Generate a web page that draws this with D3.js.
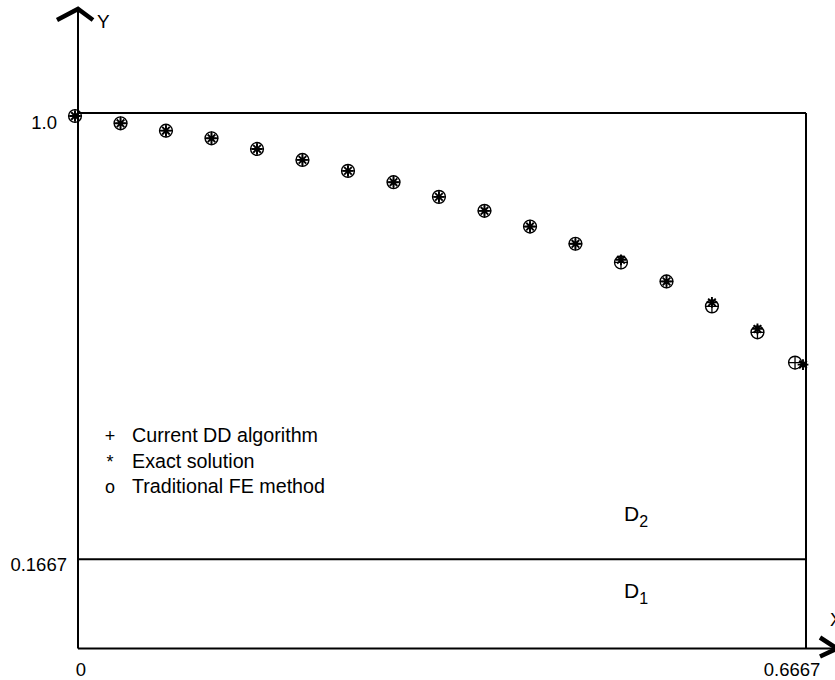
<!DOCTYPE html>
<meta charset="utf-8">

<!-- Load d3.js -->
<script src="https://d3js.org/d3.v7.min.js"></script>

<style>
  body { margin: 0; background: #fff; }
  text { font-family: "Liberation Sans", Arial, Helvetica, sans-serif; fill: #000; }
</style>

<!-- Create a div where the graph will take place -->
<div id="chart"></div>

<script>
  // values
  var xExact = [0, 0.0417, 0.0833, 0.125, 0.1667, 0.2083, 0.25, 0.2917, 0.3333,
    0.375, 0.4167, 0.4583, 0.5, 0.5417, 0.5833, 0.625, 0.6667];
  var xMethods = [0, 0.0417, 0.0833, 0.125, 0.1667, 0.2083, 0.25, 0.2917, 0.3333,
    0.375, 0.4167, 0.4583, 0.5, 0.5417, 0.5833, 0.625, 0.6594];
  var yExact = [1.0, 0.9864, 0.9726, 0.9584, 0.9385, 0.918, 0.8975, 0.8764, 0.849,
    0.8229, 0.7936, 0.7614, 0.7315, 0.691, 0.652, 0.6024, 0.5358];
  var yDD = [1.0, 0.9864, 0.9726, 0.9584, 0.9385, 0.918, 0.8975, 0.8764, 0.849,
    0.8229, 0.7936, 0.7614, 0.7265, 0.691, 0.6445, 0.596, 0.5395];
  var yFE = [1.0, 0.9864, 0.9726, 0.9584, 0.9385, 0.918, 0.8975, 0.8764, 0.849,
    0.8229, 0.7936, 0.7614, 0.7265, 0.691, 0.6445, 0.596, 0.5395];

  var xTicks = [0, 0.6667];
  var xTickLabels = ["0", "0.6667"];
  var yTicks = [0.1667, 1.0];
  var yTickLabels = ["0.1667", "1.0"];
  var interfaceY = 0.1667;

  var legendGlyphs = ["+", "*", "o"];
  var legendLabels = ["Current DD algorithm", "Exact solution", "Traditional FE method"];

  var regionNames = ["D", "D"];
  var regionSubs = ["1", "2"];
  var regionX = [0.5, 0.5];
  var regionY = [0.094, 0.238];

  // dimensions
  var W = 835, H = 680;
  var margin = { top: 113, right: 29, bottom: 31.5, left: 78 };

  var svg = d3.select("#chart")
    .append("svg")
    .attr("width", W)
    .attr("height", H);

  var x = d3.scaleLinear()
    .domain([0, 0.6667])
    .range([margin.left, W - margin.right]);
  var y = d3.scaleLinear()
    .domain([0, 1])
    .range([H - margin.bottom, margin.top]);

  var x0 = x(0), x1 = x(0.6667), y0 = y(0), y1 = y(1);

  // frame and interface line
  var frame = svg.append("g")
    .attr("fill", "none")
    .attr("stroke", "#000")
    .attr("stroke-width", 2);
  frame.append("line").attr("x1", x0).attr("x2", x1).attr("y1", y1).attr("y2", y1);
  frame.append("line").attr("x1", x1).attr("x2", x1).attr("y1", y1).attr("y2", y0);
  frame.append("line").attr("x1", x0).attr("x2", x1)
    .attr("y1", y(interfaceY)).attr("y2", y(interfaceY));
  // axes with arrows
  frame.append("line").attr("x1", x0).attr("x2", x0).attr("y1", y0).attr("y2", 10);
  frame.append("line").attr("x1", x0).attr("x2", W + 2).attr("y1", y0).attr("y2", y0);
  frame.append("polyline")
    .attr("points", [[x0 - 21, 20], [x0, 9], [x0 + 15, 20]].join(" "))
    .attr("stroke-width", 4.5);
  frame.append("polyline")
    .attr("points", [[W - 15, y0 - 11], [W + 2, y0], [W - 15, y0 + 8]].join(" "))
    .attr("stroke-width", 4.5);

  svg.append("text").attr("x", x0 + 19).attr("y", 28)
    .style("font-size", "19px").text("Y");
  svg.append("text").attr("x", W - 5).attr("y", y0 - 23)
    .style("font-size", "18px").text("X");

  // tick labels
  var gy = svg.append("g")
    .attr("transform", "translate(" + x0 + ",0)")
    .call(d3.axisLeft(y).tickValues(yTicks).tickSize(0).tickPadding(11)
      .tickFormat(function (d, i) { return yTickLabels[i]; }));
  gy.select(".domain").remove();
  gy.selectAll("text")
    .style("font-size", "18.5px")
    .attr("font-family", null)
    .attr("dy", function (d, i) { return i === 0 ? "0.6em" : "0.85em"; })
    .attr("dx", function (d, i) { return i === 0 ? 0 : -10; });

  var gx = svg.append("g")
    .attr("transform", "translate(0," + y0 + ")")
    .call(d3.axisBottom(x).tickValues(xTicks).tickSize(0).tickPadding(14.5)
      .tickFormat(function (d, i) { return xTickLabels[i]; }));
  gx.select(".domain").remove();
  gx.selectAll("text")
    .style("font-size", "18.5px")
    .attr("font-family", null)
    .attr("dx", function (d, i) { return i === 0 ? 2.5 : -14.5; });

  // markers
  var star8 = {
    draw: function (context, size) {
      var r = Math.sqrt(size) / 2, q = r * Math.SQRT1_2;
      context.moveTo(-r, 0); context.lineTo(r, 0);
      context.moveTo(0, -r); context.lineTo(0, r);
      context.moveTo(-q, -q); context.lineTo(q, q);
      context.moveTo(-q, q); context.lineTo(q, -q);
    }
  };
  var plus = {
    draw: function (context, size) {
      var r = Math.sqrt(size) / 2;
      context.moveTo(-r, 0); context.lineTo(r, 0);
      context.moveTo(0, -r); context.lineTo(0, r);
    }
  };

  var marks = svg.append("g")
    .attr("transform", "translate(-3,3)")
    .attr("fill", "none")
    .attr("stroke", "#000");

  marks.append("g").selectAll("circle")
    .data(yFE)
    .enter()
    .append("circle")
    .attr("cx", function (d, i) { return x(xMethods[i]); })
    .attr("cy", function (d) { return y(d); })
    .attr("r", 6.4)
    .attr("stroke-width", 1.4);

  marks.append("g").selectAll("path")
    .data(yDD)
    .enter()
    .append("path")
    .attr("d", d3.symbol(plus, 180))
    .attr("transform", function (d, i) { return "translate(" + x(xMethods[i]) + "," + y(d) + ")"; })
    .attr("stroke-width", 1.3);

  marks.append("g").selectAll("path")
    .data(yExact)
    .enter()
    .append("path")
    .attr("d", d3.symbol(star8, 115))
    .attr("transform", function (d, i) { return "translate(" + x(xExact[i]) + "," + y(d) + ")"; })
    .attr("stroke-width", 1.9);

  // legend
  var legend = svg.append("g").attr("transform", "translate(0,442)");
  legend.selectAll(".glyph")
    .data(legendGlyphs)
    .enter()
    .append("text")
    .attr("class", "glyph")
    .attr("x", 110)
    .attr("y", function (d, i) { return i * 25.5; })
    .attr("text-anchor", "middle")
    .style("font-size", "18px")
    .text(function (d) { return d; });
  legend.selectAll(".label")
    .data(legendLabels)
    .enter()
    .append("text")
    .attr("class", "label")
    .attr("x", 132)
    .attr("y", function (d, i) { return i * 25.5; })
    .style("font-size", "19.7px")
    .text(function (d) { return d; });

  // subdomain labels
  regionNames.forEach(function (name, i) {
    var t = svg.append("text")
      .attr("x", x(regionX[i]))
      .attr("y", y(regionY[i]))
      .style("font-size", "21px")
      .text(name);
    t.append("tspan")
      .attr("dy", 6)
      .style("font-size", "16px")
      .text(regionSubs[i]);
  });
</script>
